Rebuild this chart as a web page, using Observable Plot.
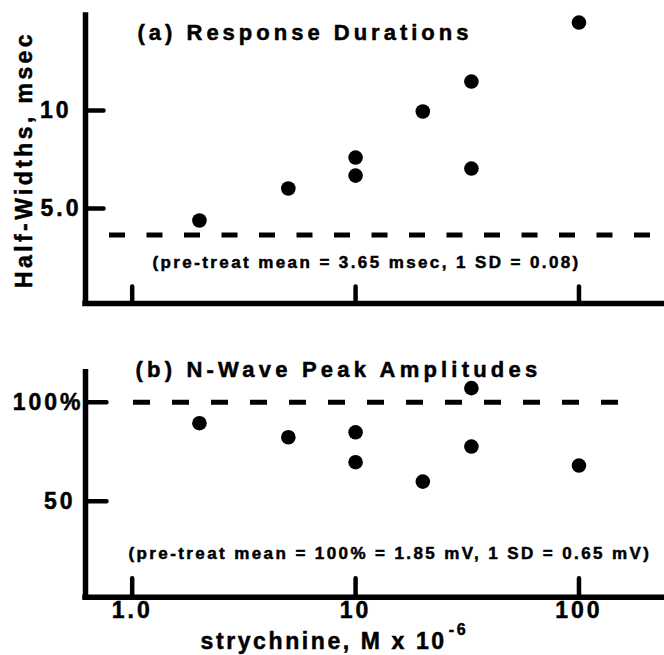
<!DOCTYPE html>
<html>
<head>
<meta charset="utf-8">
<script src="https://cdn.jsdelivr.net/npm/d3@7"></script>
<script src="https://cdn.jsdelivr.net/npm/@observablehq/plot@0.6"></script>
<style>
  html, body { margin: 0; padding: 0; background: #fff; }
  #chart { width: 664px; height: 655px; overflow: hidden; background: #fff; }
  #chart svg { display: block; }
  #chart text { stroke: black; stroke-width: 0.5px; }
</style>
</head>
<body>
<div id="chart"></div>
<script>
// ---- data ----
const concentrations = [2, 5, 10, 10, 20, 33, 33, 100];          // strychnine, M x 10^-6
const halfWidths     = [4.39, 6.02, 7.60, 6.68, 9.95, 11.48, 7.04, 14.49]; // msec
const amplitudes     = [89.4, 82.3, 84.8, 69.7, 59.9, 107.1, 77.6, 68.0];  // % of pre-treat
const xTicks       = [1, 10, 100];
const xTickLabels  = ["1.0", "10", "100"];
const yTicksA      = [5, 10];
const yTickLabelsA = ["5.0", "10"];
const yTicksB      = [50, 100];
const yTickLabelsB = ["50", "100%"];
const pretreatA = 3.65;
const pretreatB = 100;
const titleA = "(a) Response Durations";
const titleB = "(b) N-Wave Peak Amplitudes";
const noteA = "(pre-treat mean = 3.65 msec, 1 SD = 0.08)";
const noteB = "(pre-treat mean = 100% = 1.85 mV, 1 SD = 0.65 mV)";
const yTitleA = "Half-Widths, msec";
const xTitle = "strychnine, M x 10";
const xTitleExp = "-6";

// ---- shared settings ----
const FONT = "'Liberation Sans', Arial, Helvetica, sans-serif";
const W = 664, ML = 85;
const xDomain = [0.618, 241.5];
const yDomainA = [0.153, 14.85];
const yDomainB = [1.52, 115.15];
const AXW = 5.5;
const dataA = concentrations.map((c, i) => ({c, v: halfWidths[i]}));
const dataB = concentrations.map((c, i) => ({c, v: amplitudes[i]}));
const fmt = (ticks, labels) => d => labels[ticks.indexOf(d)];

const baseStyle = {fontFamily: FONT, fontWeight: "bold", color: "black", background: "white", overflow: "visible", letterSpacing: "3px"};

// ---- panel (a) ----
const plotA = Plot.plot({
  width: W, height: 320,
  marginLeft: ML, marginRight: 0, marginTop: 15, marginBottom: 17,
  style: baseStyle,
  x: {type: "log", domain: xDomain, axis: null},
  y: {domain: yDomainA, axis: null},
  marks: [
    Plot.ruleY([pretreatA], {stroke: "black", strokeWidth: 5, strokeDasharray: "16,21.5", insetLeft: 24, insetRight: 6}),
    Plot.ruleX([xDomain[0]], {stroke: "black", strokeWidth: AXW, strokeLinecap: "square"}),
    Plot.ruleY([yDomainA[0]], {stroke: "black", strokeWidth: AXW, strokeLinecap: "square"}),
    Plot.vector(xTicks, {x: d => d, y: yDomainA[0], length: 17, rotate: 0, anchor: "start", r: 0, stroke: "black", strokeWidth: 4.5}),
    Plot.vector(yTicksA, {x: xDomain[0], y: d => d, length: 18, rotate: 90, anchor: "start", r: 0, stroke: "black", strokeWidth: 4.5}),
    Plot.axisY([10], {tickSize: 0, tickPadding: 14, fontSize: 23, label: null, tickFormat: fmt(yTicksA, yTickLabelsA)}),
    Plot.axisY([5], {tickSize: 0, tickPadding: 4, fontSize: 23, label: null, tickFormat: fmt(yTicksA, yTickLabelsA)}),
    Plot.dot(dataA, {x: "c", y: "v", r: 7.3, fill: "black", stroke: "none"}),
    Plot.text([titleA], {text: d => d, frameAnchor: "top-left", dx: 52, dy: 24.3, textAnchor: "start", lineAnchor: "bottom", fontSize: 22}),
    Plot.text([noteA], {text: d => d, frameAnchor: "bottom-left", dx: 67, dy: -36, textAnchor: "start", lineAnchor: "bottom", fontSize: 17}),
    Plot.text([yTitleA], {text: d => d, frameAnchor: "left", dx: -61, rotate: -90, textAnchor: "middle", fontSize: 23})
  ]
});

// ---- panel (b) ----
const plotB = Plot.plot({
  width: W, height: 335,
  marginLeft: ML, marginRight: 0, marginTop: 51.7, marginBottom: 58.3,
  style: baseStyle,
  x: {type: "log", domain: xDomain},
  y: {domain: yDomainB, axis: null},
  marks: [
    Plot.ruleY([pretreatB], {stroke: "black", strokeWidth: 5, strokeDasharray: "17,22", insetLeft: 48, insetRight: 37}),
    Plot.ruleX([xDomain[0]], {stroke: "black", strokeWidth: AXW, strokeLinecap: "square"}),
    Plot.ruleY([yDomainB[0]], {stroke: "black", strokeWidth: AXW, strokeLinecap: "square"}),
    Plot.vector(xTicks, {x: d => d, y: yDomainB[0], length: 19, rotate: 0, anchor: "start", r: 0, stroke: "black", strokeWidth: 4.5}),
    Plot.vector(yTicksB, {x: xDomain[0], y: d => d, length: 21, rotate: 90, anchor: "start", r: 0, stroke: "black", strokeWidth: 4.5}),
    Plot.axisY([100], {tickSize: 0, tickPadding: 2, fontSize: 23, label: null, tickFormat: fmt(yTicksB, yTickLabelsB)}),
    Plot.axisY([50], {tickSize: 0, tickPadding: 10, fontSize: 23, label: null, tickFormat: fmt(yTicksB, yTickLabelsB)}),
    Plot.axisX(xTicks, {tickSize: 0, tickPadding: 4, fontSize: 23, label: null, tickFormat: fmt(xTicks, xTickLabels)}),
    Plot.dot(dataB, {x: "c", y: "v", r: 7.3, fill: "black", stroke: "none"}),
    Plot.text([titleB], {text: d => d, frameAnchor: "top-left", dx: 50, dy: 5, textAnchor: "start", lineAnchor: "bottom", fontSize: 22}),
    Plot.text([noteB], {text: d => d, frameAnchor: "bottom-left", dx: 43, dy: -38.4, textAnchor: "start", lineAnchor: "bottom", fontSize: 17}),
    Plot.text([xTitle], {text: d => d, frameAnchor: "bottom-left", dx: 115, dy: 51.3, textAnchor: "start", lineAnchor: "bottom", fontSize: 23})
  ]
});

const chart = document.getElementById("chart");
chart.appendChild(plotA);
chart.appendChild(plotB);

// typographic tweaks (letter spacing, superscript), selected by text content
const spacing = new Map([[titleA, "4px"], [titleB, "4.2px"], [noteA, "2.4px"], [noteB, "2.4px"], [yTitleA, "3.4px"], [xTitle, "2.6px"]]);
for (const svg of [plotA, plotB]) {
  d3.select(svg).selectAll("text").each(function() {
    const t = this.textContent;
    if (spacing.has(t)) this.style.letterSpacing = spacing.get(t);
    if (t === xTitle) {
      d3.select(this).append("tspan").attr("dy", "-14").attr("dx", "2").attr("font-size", "16").text(xTitleExp);
    }
  });
}
</script>
</body>
</html>
